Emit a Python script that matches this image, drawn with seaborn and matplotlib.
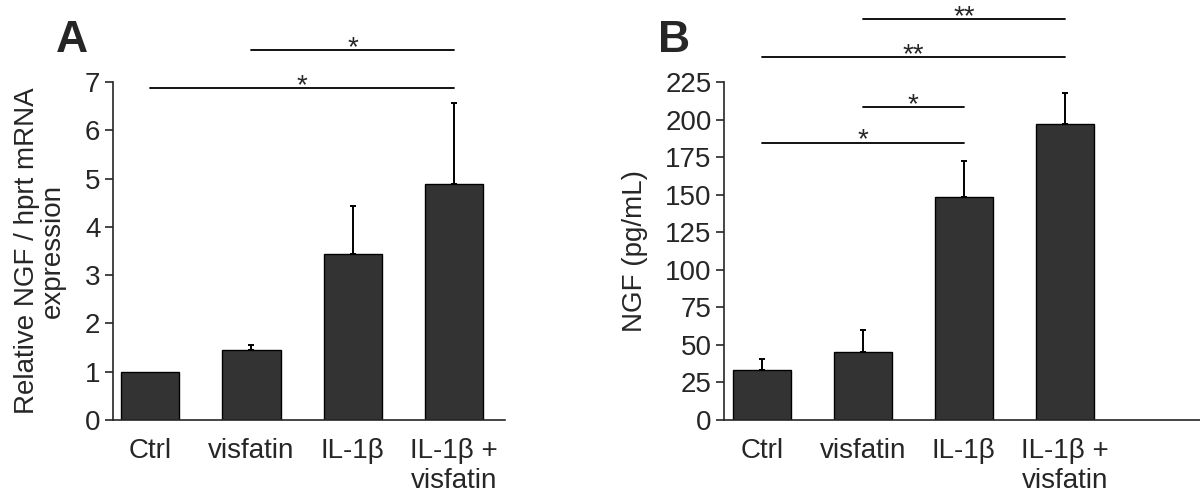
import numpy as np
import pandas as pd
import seaborn as sns
import matplotlib
matplotlib.use('Agg')
import matplotlib.pyplot as plt

categories = ['Ctrl', 'visfatin', 'IL-1β', 'IL-1β +\nvisfatin']

# panel A: relative NGF / hprt mRNA
mrna_mean = [1.0, 1.46, 3.43, 4.89]
mrna_err = [0.0, 0.10, 1.01, 1.67]
mrna_sig = [(1, 3, 7.66, '*'), (0, 3, 6.87, '*')]

# panel B: NGF protein (pg/mL)
ngf_mean = [33.0, 45.5, 148.7, 197.0]
ngf_err = [7.8, 14.2, 23.7, 21.0]
ngf_sig = [(1, 3, 267.0, '**'), (0, 3, 241.5, '**'), (1, 2, 208.2, '*'), (0, 2, 184.6, '*')]

sns.set_style('ticks')
plt.rcParams['font.family'] = ['Liberation Sans', 'DejaVu Sans']


def draw_panel(ax, means, errs, sig, ylabel, ylim, yticks, xlim, letter, letter_x, labelpad):
    df = pd.DataFrame({'group': categories, 'value': means})
    sns.barplot(data=df, x='group', y='value', ax=ax, color='#333333',
                edgecolor='black', linewidth=1.0, width=0.575,
                errorbar=None, saturation=1)
    # upper error bars only, skip groups without error
    idx = [i for i, e in enumerate(errs) if e > 0]
    m = np.array(means)[idx]
    e = np.array(errs)[idx]
    ax.errorbar(idx, m, yerr=[np.zeros(len(e)), e], fmt='none',
                ecolor='black', elinewidth=1.4, capsize=2.5, capthick=1.4,
                zorder=1)
    for i, j, y, label in sig:
        ax.plot([i, j], [y, y], color='black', lw=1.3, clip_on=False)
        ax.annotate(label, xy=((i + j) / 2, y), xytext=(0, -3.5),
                    textcoords='offset points', ha='center', va='baseline',
                    fontsize=20, annotation_clip=False)
    ax.set_ylim(*ylim)
    ax.set_yticks(yticks)
    ax.set_xlim(*xlim)
    ax.set_xlabel('')
    ax.set_ylabel(ylabel, fontsize=20, linespacing=1.0, labelpad=labelpad)
    ax.tick_params(axis='y', labelsize=20, length=6, width=1.2, pad=3)
    ax.tick_params(axis='x', labelsize=20, length=0, pad=13)
    for s in ['left', 'bottom']:
        ax.spines[s].set_linewidth(1.2)
    sns.despine(ax=ax)
    ax.figure.text(letter_x, 1 - 20 / 497, letter, ha='left', va='top',
                   fontsize=32, fontweight='bold')


fig = plt.figure(figsize=(12, 4.97), dpi=100)
ax1 = fig.add_axes([113 / 1200, 77 / 497, 392 / 1200, 338 / 497])
ax2 = fig.add_axes([724 / 1200, 77 / 497, 476 / 1200, 338 / 497])

draw_panel(ax1, mrna_mean, mrna_err, mrna_sig,
           'Relative NGF / hprt mRNA\nexpression', (0, 7), range(0, 8),
           (-0.365, 3.5), 'A', 56 / 1200, 14)
draw_panel(ax2, ngf_mean, ngf_err, ngf_sig, 'NGF (pg/mL)', (0, 225),
           range(0, 226, 25), (-0.376, 4.34), 'B', 658 / 1200, 12)

fig.savefig('out.png', dpi=100)
